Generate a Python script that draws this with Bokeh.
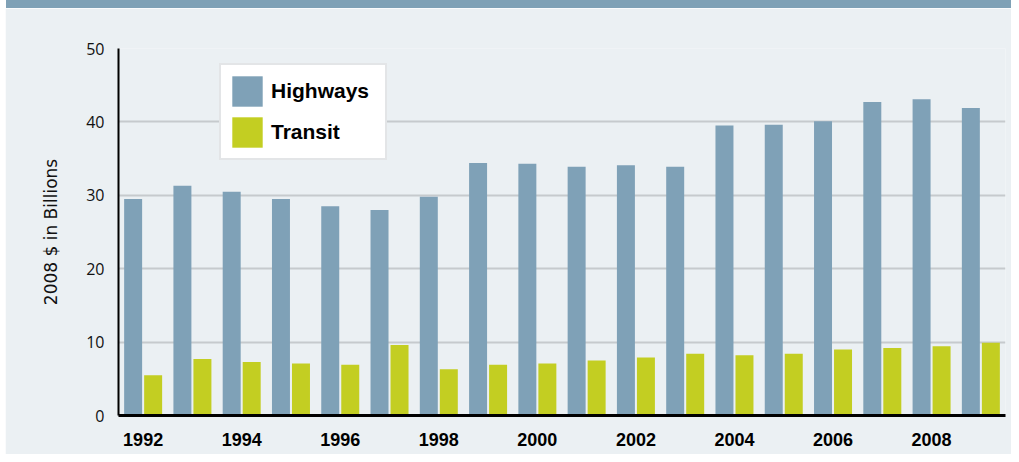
from bokeh.plotting import figure
from bokeh.models import Range1d, FixedTicker, Legend, LegendItem, ColumnDataSource, Div
from bokeh.layouts import column
from bokeh.transform import dodge
from bokeh.embed import file_html
from bokeh.resources import INLINE

years = [1992, 1993, 1994, 1995, 1996, 1997, 1998, 1999, 2000,
         2001, 2002, 2003, 2004, 2005, 2006, 2007, 2008, 2009]
highways = [29.5, 31.3, 30.5, 29.5, 28.5, 28.0, 29.8, 34.4, 34.3,
            33.9, 34.1, 33.9, 39.5, 39.6, 40.1, 42.7, 43.1, 41.9]
transit = [5.5, 7.7, 7.3, 7.1, 6.9, 9.6, 6.3, 6.9, 7.1,
           7.5, 7.9, 8.4, 8.2, 8.4, 9.0, 9.2, 9.45, 9.9]
x_tick_years = [1992, 1994, 1996, 1998, 2000, 2002, 2004, 2006, 2008]
y_ticks = [0, 10, 20, 30, 40, 50]
series_names = ["Highways", "Transit"]

BG = "#ebf0f3"
BAND = "#7fa1b6"
C_HWY = "#7fa1b7"
C_TRN = "#c3ce22"

source = ColumnDataSource(data=dict(year=years, highways=highways, transit=transit))

p = figure(width=1006, height=446,
           x_range=Range1d(1991.5, 2009.5), y_range=Range1d(0, 50),
           output_backend="svg", toolbar_location=None,
           min_border_left=113, min_border_right=6,
           min_border_top=40, min_border_bottom=39,
           background_fill_color=BG, border_fill_color=BG,
           outline_line_color=None, margin=(0, 0, 0, 5))

r1 = p.vbar(x=dodge("year", -0.203, range=p.x_range), top="highways", bottom=0,
            width=0.365, source=source, fill_color=C_HWY, line_color=None)
r2 = p.vbar(x=dodge("year", 0.203, range=p.x_range), top="transit", bottom=0,
            width=0.365, source=source, fill_color=C_TRN, line_color=None)

# grid
p.xgrid.visible = False
p.ygrid.ticker = FixedTicker(ticks=y_ticks)
p.ygrid.grid_line_color = "#c6cacd"
p.ygrid.grid_line_width = 2

# x axis
xa = p.xaxis[0]
xa.ticker = FixedTicker(ticks=x_tick_years)
xa.axis_line_color = "black"
xa.axis_line_width = 3
xa.major_tick_line_color = None
xa.minor_tick_line_color = None
xa.major_tick_in = 0
xa.major_tick_out = 0
xa.major_label_standoff = 17
xa.major_label_text_font = "Liberation Sans"
xa.major_label_text_font_style = "bold"
xa.major_label_text_font_size = "18px"
xa.major_label_text_color = "black"

# y axis
ya = p.yaxis[0]
ya.ticker = FixedTicker(ticks=y_ticks)
ya.axis_line_color = "black"
ya.axis_line_width = 2
ya.major_tick_line_color = None
ya.minor_tick_line_color = None
ya.major_tick_in = 0
ya.major_tick_out = 0
ya.major_label_standoff = 14
ya.major_label_text_font = "Open Sans"
ya.major_label_text_font_size = "16px"
ya.major_label_text_color = "#111111"
ya.axis_label = "2008 $ in Billions"
ya.axis_label_text_font = "DejaVu Sans"
ya.axis_label_text_font_style = "normal"
ya.axis_label_text_font_size = "17px"
ya.axis_label_text_color = "#111111"
ya.axis_label_standoff = 22

legend = Legend(items=[LegendItem(label=series_names[0], renderers=[r1]),
                       LegendItem(label=series_names[1], renderers=[r2])],
                location=(101, 255),
                glyph_width=38, glyph_height=38,
                padding=7, spacing=3, label_standoff=5, label_width=107,
                margin=0,
                border_line_color="#c8ccd0", border_line_width=2,
                background_fill_color="white", background_fill_alpha=1,
                label_text_font="Liberation Sans", label_text_font_style="bold",
                label_text_font_size="21px", label_text_color="black")
p.add_layout(legend)

band = Div(text="", width=1005, height=8, margin=(0, 0, 0, 6),
           styles={"background-color": BAND})

layout = column(band, p, spacing=0)

open("out.html", "w").write(file_html(layout, INLINE))
